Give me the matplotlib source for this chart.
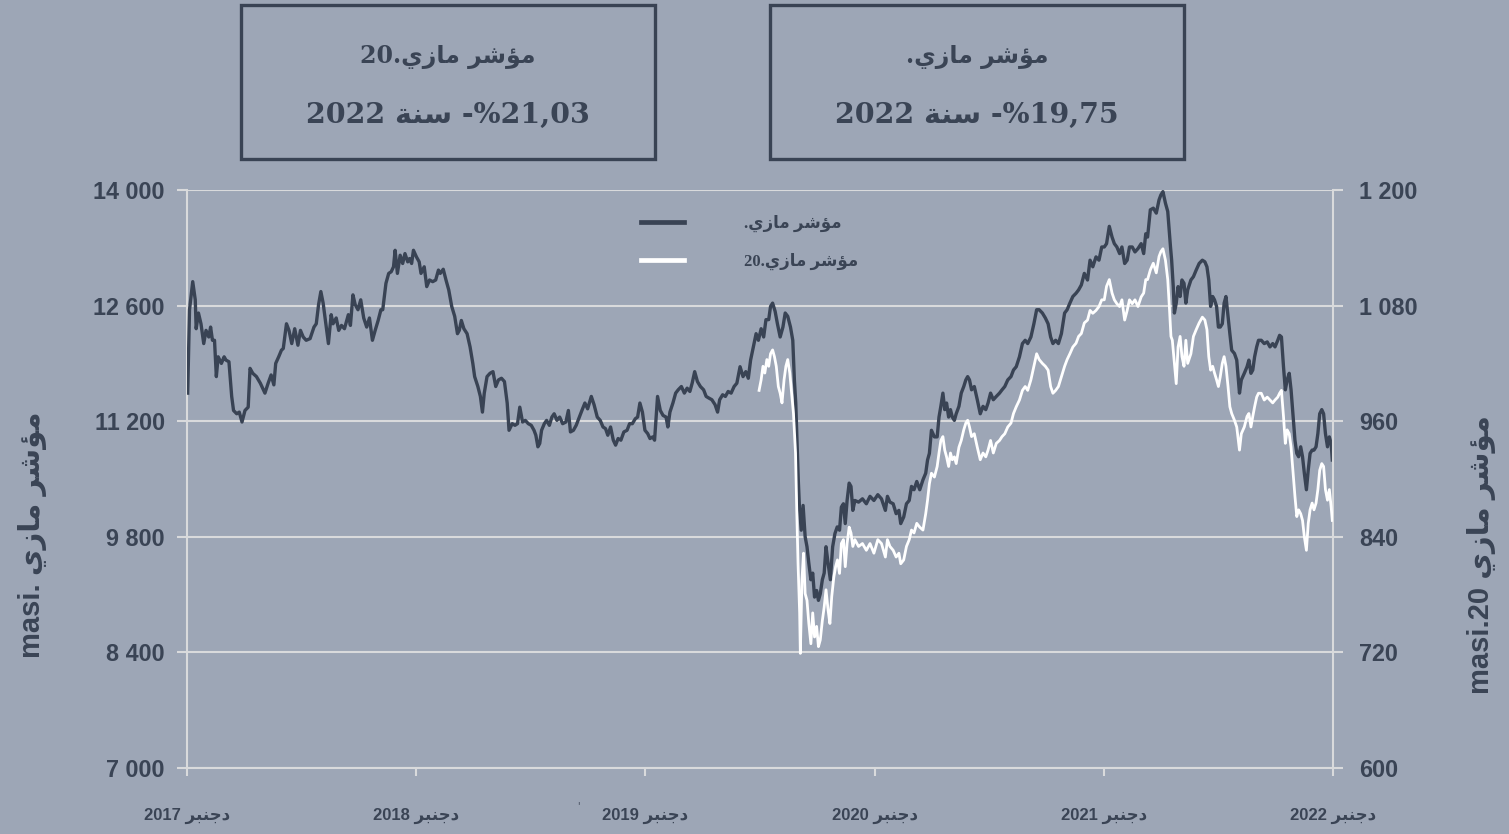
import matplotlib
matplotlib.use("Agg")
import matplotlib.pyplot as plt
from matplotlib.lines import Line2D
from matplotlib.patches import Rectangle

# ---------------- data ----------------
# x: years since December 2017 (tick 0 = Dec 2017 ... 5 = Dec 2022)
t_masi = [0.003, 0.011, 0.025, 0.036, 0.040, 0.050, 0.061, 0.073, 0.083, 0.095, 0.103, 0.111, 0.120, 0.128,
          0.136, 0.150, 0.162, 0.170, 0.183, 0.195, 0.203, 0.217, 0.228, 0.240, 0.253, 0.267, 0.275, 0.287,
          0.303, 0.320, 0.340, 0.354, 0.367, 0.379, 0.387, 0.400, 0.412, 0.420, 0.434, 0.445, 0.457, 0.470,
          0.484, 0.495, 0.507, 0.520, 0.537, 0.554, 0.564, 0.574, 0.584, 0.594, 0.604, 0.617, 0.629, 0.637,
          0.651, 0.662, 0.674, 0.687, 0.704, 0.713, 0.724, 0.734, 0.746, 0.758, 0.771, 0.784, 0.796, 0.809,
          0.821, 0.834, 0.846, 0.854, 0.868, 0.880, 0.891, 0.901, 0.908, 0.918, 0.930, 0.941, 0.951, 0.963,
          0.971, 0.980, 0.988, 1.001, 1.013, 1.021, 1.035, 1.046, 1.058, 1.072, 1.085, 1.097, 1.105, 1.118,
          1.130, 1.142, 1.155, 1.168, 1.180, 1.188, 1.197, 1.208, 1.222, 1.235, 1.247, 1.255, 1.269, 1.280,
          1.289, 1.297, 1.309, 1.322, 1.335, 1.347, 1.359, 1.372, 1.385, 1.397, 1.405, 1.419, 1.431, 1.442,
          1.452, 1.464, 1.476, 1.489, 1.502, 1.514, 1.522, 1.531, 1.539, 1.547, 1.559, 1.569, 1.581, 1.592,
          1.602, 1.614, 1.626, 1.639, 1.653, 1.664, 1.673, 1.686, 1.698, 1.709, 1.723, 1.736, 1.748, 1.764,
          1.776, 1.790, 1.803, 1.815, 1.826, 1.836, 1.848, 1.860, 1.870, 1.881, 1.893, 1.906, 1.920, 1.931,
          1.943, 1.956, 1.966, 1.976, 1.987, 1.998, 2.010, 2.020, 2.032, 2.040, 2.053, 2.065, 2.077, 2.090,
          2.098, 2.107, 2.120, 2.132, 2.143, 2.157, 2.170, 2.182, 2.194, 2.204, 2.215, 2.227, 2.240, 2.254,
          2.265, 2.277, 2.290, 2.304, 2.315, 2.324, 2.337, 2.349, 2.361, 2.374, 2.387, 2.399,
          2.413, 2.426, 2.438, 2.449, 2.459, 2.471, 2.483, 2.493, 2.505, 2.516, 2.526, 2.538, 2.546, 2.555,
          2.566, 2.576, 2.588, 2.600, 2.610, 2.621, 2.633, 2.643, 2.650, 2.656, 2.663, 2.667, 2.672, 2.680,
          2.688, 2.697, 2.705, 2.713, 2.722, 2.730, 2.738, 2.747, 2.755, 2.763, 2.772, 2.780, 2.788, 2.797,
          2.807, 2.817, 2.827, 2.837, 2.847, 2.855, 2.864, 2.872, 2.880, 2.889, 2.897, 2.905, 2.914, 2.930,
          2.947, 2.964, 2.980, 2.997, 3.014, 3.030, 3.047, 3.056, 3.067, 3.081, 3.094, 3.106, 3.114, 3.127,
          3.139, 3.151, 3.161, 3.172, 3.184, 3.197, 3.211, 3.223, 3.231, 3.239, 3.248, 3.261, 3.273, 3.281,
          3.289, 3.298, 3.306, 3.314, 3.323, 3.331, 3.339, 3.348, 3.356, 3.368, 3.378, 3.389, 3.398, 3.406,
          3.414, 3.423, 3.435, 3.448, 3.461, 3.473, 3.485, 3.495, 3.506, 3.518, 3.531, 3.545, 3.556, 3.568,
          3.581, 3.595, 3.606, 3.618, 3.632, 3.645, 3.657, 3.668, 3.682, 3.695, 3.707, 3.718, 3.732, 3.745,
          3.757, 3.768, 3.778, 3.790, 3.802, 3.815, 3.829, 3.840, 3.852, 3.865, 3.879, 3.890, 3.902, 3.915,
          3.929, 3.940, 3.952, 3.966, 3.979, 3.991, 4.002, 4.012, 4.024, 4.036, 4.046, 4.057, 4.069, 4.079,
          4.091, 4.102, 4.112, 4.124, 4.136, 4.149, 4.163, 4.174, 4.183, 4.191, 4.203, 4.216, 4.229, 4.241,
          4.249, 4.258, 4.269, 4.279, 4.291, 4.296, 4.303, 4.308, 4.316, 4.324, 4.333, 4.341, 4.350, 4.358,
          4.366, 4.380, 4.391, 4.403, 4.416, 4.430, 4.441, 4.450, 4.458, 4.466, 4.475, 4.483, 4.492, 4.500,
          4.508, 4.517, 4.525, 4.533, 4.542, 4.550, 4.558, 4.570, 4.580, 4.592, 4.600, 4.613, 4.625, 4.633,
          4.642, 4.650, 4.658, 4.667, 4.675, 4.687, 4.700, 4.713, 4.725, 4.737, 4.747, 4.759, 4.767, 4.775,
          4.784, 4.792, 4.800, 4.809, 4.817, 4.825, 4.834, 4.842, 4.850, 4.859, 4.867, 4.875, 4.884, 4.892,
          4.900, 4.909, 4.917, 4.926, 4.934, 4.942, 4.951, 4.959, 4.967, 4.976, 4.984, 4.992, 4.997]

masi = [11540, 12550, 12890, 12670, 12320, 12510, 12380, 12140, 12300, 12220, 12340, 12180, 12180, 11740,
        11980, 11900, 11980, 11940, 11920, 11500, 11330, 11290, 11310, 11190, 11330, 11370, 11840, 11780,
        11740, 11660, 11540, 11660, 11760, 11640, 11900, 11980, 12060, 12080, 12380, 12300, 12140, 12320,
        12120, 12300, 12220, 12180, 12200, 12340, 12380, 12610, 12770, 12630, 12420, 12140, 12490, 12380,
        12450, 12300, 12360, 12320, 12490, 12360, 12730, 12610, 12550, 12670, 12450, 12340, 12450, 12180,
        12300, 12420, 12550, 12550, 12870, 12990, 13010, 13070, 13270, 12990, 13210, 13110, 13230, 13130,
        13170, 13110, 13270, 13190, 13130, 12990, 13070, 12830, 12910, 12890, 12910, 13030, 12990, 13040,
        12910, 12790, 12590, 12470, 12260, 12300, 12420, 12320, 12260, 12100, 11900, 11740, 11620, 11500,
        11310, 11540, 11740, 11780, 11800, 11620, 11700, 11720, 11680, 11420, 11090, 11170, 11150, 11170,
        11370, 11190, 11210, 11170, 11150, 11090, 11030, 10890, 10930, 11090, 11170, 11210, 11150, 11250,
        11290, 11210, 11250, 11170, 11190, 11330, 11070, 11090, 11150, 11230, 11330, 11420, 11350, 11500,
        11400, 11250, 11210, 11130, 11110, 11030, 11130, 10970, 10910, 10990, 10970, 11070, 11090, 11170,
        11170, 11230, 11250, 11420, 11310, 11090, 11050, 10990, 11010, 10970, 11500, 11330, 11270, 11250,
        11130, 11310, 11420, 11540, 11580, 11620, 11540, 11600, 11560, 11660, 11800, 11680, 11620, 11580,
        11500, 11480, 11460, 11400, 11310, 11460, 11520, 11500, 11560, 11540, 11620, 11660,
        11860, 11740, 11800, 11720, 11940, 12100, 12260, 12180, 12320, 12220, 12430, 12430, 12590, 12630,
        12530, 12380, 12220, 12340, 12510, 12470, 12340, 12180, 11700, 11420, 10850, 10490, 10160, 9880,
        10180, 9800, 9680, 9480, 9280, 9360, 9070, 9150, 9030, 9110, 9280, 9360, 9680, 9480,
        9280, 9680, 9840, 9920, 9880, 10160, 10200, 9960, 10240, 10450, 10410, 10120, 10240, 10220,
        10260, 10200, 10290, 10240, 10310, 10260, 10120, 10290, 10220, 10200, 10080, 10120, 9960, 10040,
        10200, 10240, 10410, 10370, 10470, 10370, 10490, 10570, 10730, 10810, 11090, 11010, 11010, 11250,
        11380, 11540, 11340, 11420, 11250, 11340, 11250, 11210, 11290, 11380, 11540, 11620, 11700, 11740,
        11700, 11580, 11620, 11460, 11290, 11380, 11340, 11420, 11540, 11460, 11500, 11540, 11580, 11620,
        11700, 11740, 11820, 11860, 11980, 12140, 12180, 12140, 12220, 12380, 12550, 12550, 12510, 12450,
        12380, 12220, 12140, 12180, 12140, 12260, 12510, 12550, 12630, 12710, 12750, 12790, 12850, 12990,
        12910, 13150, 13070, 13190, 13150, 13310, 13310, 13350, 13560, 13430, 13350, 13310, 13230, 13310,
        13110, 13150, 13310, 13310, 13250, 13290, 13350, 13230, 13470, 13430, 13760, 13780, 13720, 13880,
        13940, 13980, 13840, 13740, 13310, 13150, 12830, 12510, 12630, 12830, 12710, 12910, 12870, 12630,
        12790, 12910, 12950, 13030, 13110, 13150, 13130, 13070, 12910, 12590, 12710, 12670, 12590, 12340,
        12340, 12380, 12630, 12710, 12470, 12260, 12060, 12020, 11940, 11540, 11700, 11780, 11860, 11940,
        11780, 11820, 11980, 12100, 12180, 12180, 12140, 12160, 12100, 12140, 12100, 12180, 12240, 12220,
        11860, 11580, 11700, 11780, 11580, 11290, 10970, 10810, 10770, 10890, 10770, 10570, 10370, 10610,
        10810, 10850, 10850, 10890, 11050, 11290, 11340, 11290, 11050, 10890, 11010, 10930, 10730]

t_masi20 = [2.496, 2.505, 2.513, 2.521, 2.530, 2.538, 2.546, 2.555, 2.563, 2.571, 2.580, 2.588, 2.596, 2.605,
            2.613, 2.621, 2.630, 2.638, 2.646, 2.655, 2.660, 2.666, 2.673, 2.676, 2.683, 2.690, 2.697, 2.705,
            2.713, 2.722, 2.730, 2.738, 2.747, 2.755, 2.763, 2.772, 2.780, 2.788, 2.797, 2.805, 2.813, 2.822,
            2.830, 2.838, 2.847, 2.855, 2.864, 2.872, 2.880, 2.889, 2.897, 2.905, 2.914, 2.930, 2.947, 2.964,
            2.980, 2.997, 3.014, 3.030, 3.047, 3.056, 3.067, 3.081, 3.094, 3.106, 3.114, 3.127, 3.139, 3.151,
            3.161, 3.172, 3.184, 3.197, 3.211, 3.223, 3.231, 3.239, 3.248, 3.261, 3.273, 3.281, 3.289, 3.298,
            3.306, 3.314, 3.323, 3.331, 3.339, 3.348, 3.356, 3.368, 3.378, 3.389, 3.398, 3.406, 3.414, 3.423,
            3.435, 3.448, 3.461, 3.473, 3.485, 3.495, 3.506, 3.518, 3.531, 3.545, 3.556, 3.568, 3.581, 3.595,
            3.606, 3.618, 3.632, 3.645, 3.657, 3.668, 3.682, 3.695, 3.707, 3.718, 3.732, 3.745, 3.757, 3.768,
            3.778, 3.790, 3.802, 3.815, 3.829, 3.840, 3.852, 3.865, 3.879, 3.890, 3.902, 3.915, 3.929, 3.940,
            3.952, 3.966, 3.979, 3.991, 4.002, 4.012, 4.024, 4.036, 4.046, 4.057, 4.069, 4.079, 4.091, 4.102,
            4.112, 4.124, 4.136, 4.149, 4.163, 4.174, 4.183, 4.191, 4.203, 4.216, 4.229, 4.241, 4.249, 4.258,
            4.269, 4.279, 4.286, 4.293, 4.299, 4.308, 4.316, 4.324, 4.333, 4.341, 4.350, 4.358, 4.366, 4.380,
            4.391, 4.403, 4.416, 4.430, 4.441, 4.450, 4.458, 4.466, 4.475, 4.483, 4.492, 4.500, 4.508, 4.517,
            4.525, 4.533, 4.542, 4.550, 4.558, 4.570, 4.580, 4.592, 4.600, 4.613, 4.625, 4.633, 4.642, 4.650,
            4.658, 4.667, 4.675, 4.687, 4.700, 4.713, 4.725, 4.737, 4.747, 4.759, 4.767, 4.775, 4.784, 4.792,
            4.800, 4.809, 4.817, 4.825, 4.834, 4.842, 4.850, 4.859, 4.867, 4.875, 4.884, 4.892, 4.900, 4.909,
            4.917, 4.926, 4.934, 4.942, 4.951, 4.959, 4.967, 4.976, 4.984, 4.992, 4.997]

masi20 = [992, 1003, 1017, 1010, 1024, 1017, 1030, 1034, 1027, 1017, 996, 989, 979, 1003,
          1017, 1024, 1010, 989, 968, 927, 871, 812, 761, 719, 795, 823, 781, 774,
          750, 729, 761, 736, 747, 726, 733, 753, 767, 785, 764, 750, 778, 798,
          809, 816, 802, 833, 837, 809, 833, 850, 844, 830, 837, 830, 833, 826,
          833, 823, 837, 833, 819, 837, 830, 826, 819, 823, 812, 816, 830, 837,
          847, 844, 854, 850, 847, 864, 878, 895, 906, 902, 913, 927, 940, 944,
          930, 923, 913, 927, 920, 923, 916, 933, 940, 951, 958, 961, 954, 944,
          947, 933, 920, 927, 923, 930, 940, 927, 937, 940, 944, 947, 954, 958,
          968, 975, 982, 992, 996, 992, 1003, 1017, 1030, 1024, 1020, 1017, 1013, 996,
          989, 992, 996, 1006, 1017, 1024, 1030, 1037, 1041, 1048, 1051, 1062, 1065, 1075,
          1072, 1075, 1079, 1086, 1086, 1100, 1107, 1093, 1086, 1082, 1079, 1086, 1065, 1075,
          1086, 1082, 1086, 1079, 1089, 1093, 1107, 1107, 1117, 1124, 1114, 1131, 1136, 1139,
          1127, 1107, 1079, 1048, 1044, 1020, 999, 1037, 1048, 1027, 1017, 1044, 1020, 1030,
          1048, 1055, 1062, 1068, 1065, 1055, 1027, 1013, 1017, 1010, 1003, 996, 1006, 1020,
          1027, 1017, 996, 975, 968, 961, 954, 930, 947, 954, 965, 968, 954, 965,
          975, 985, 989, 989, 982, 985, 982, 979, 982, 985, 989, 992, 965, 937,
          951, 947, 933, 909, 882, 861, 868, 864, 857, 840, 826, 854, 868, 875,
          868, 875, 889, 909, 916, 913, 889, 878, 889, 871, 857]

left_ticks = [7000, 8400, 9800, 11200, 12600, 14000]
left_ticklabels = ["7 000", "8 400", "9 800", "11 200", "12 600", "14 000"]
right_ticks = [600, 720, 840, 960, 1080, 1200]
right_ticklabels = ["600", "720", "840", "960", "1 080", "1 200"]
x_ticks = [0, 1, 2, 3, 4, 5]
x_years = ["2017", "2018", "2019", "2020", "2021", "2022"]
month_label = "دجنبر"
name_masi = "مؤشر مازي"
year_word = "سنة"
perf_masi = "-%19,75"
perf_masi20 = "-%21,03"
perf_year = "2022"

# ---------------- minimal Arabic shaping (visual order) ----------------
FORMS = {
    'م': ('\uFEE1', '\uFEE2', '\uFEE3', '\uFEE4'),
    'ش': ('\uFEB5', '\uFEB6', '\uFEB7', '\uFEB8'),
    'ي': ('\uFEF1', '\uFEF2', '\uFEF3', '\uFEF4'),
    'س': ('\uFEB1', '\uFEB2', '\uFEB3', '\uFEB4'),
    'ن': ('\uFEE5', '\uFEE6', '\uFEE7', '\uFEE8'),
    'ج': ('\uFE9D', '\uFE9E', '\uFE9F', '\uFEA0'),
    'ب': ('\uFE8F', '\uFE90', '\uFE91', '\uFE92'),
    'ؤ': ('\uFE85', '\uFE86'),
    'ر': ('\uFEAD', '\uFEAE'),
    'ا': ('\uFE8D', '\uFE8E'),
    'ز': ('\uFEAF', '\uFEB0'),
    'ة': ('\uFE93', '\uFE94'),
    'د': ('\uFEA9', '\uFEAA'),
}


def shape_word(w):
    out = []
    for i, c in enumerate(w):
        f = FORMS[c]
        pj = i > 0 and len(FORMS[w[i - 1]]) == 4
        nj = i < len(w) - 1 and len(f) == 4
        if pj and nj:
            out.append(f[3])
        elif pj:
            out.append(f[1])
        elif nj:
            out.append(f[2])
        else:
            out.append(f[0])
    return ''.join(reversed(out))


def ar(phrase):
    return ' '.join(shape_word(w) for w in reversed(phrase.split(' ')))


# ---------------- style ----------------
BG = "#9DA6B6"
DARK = "#394354"
TXT = "#3A4455"
GRID = "#D9DADC"
W, H = 1509, 834

fig = plt.figure(figsize=(W / 100, H / 100), dpi=100, facecolor=BG)
ax = fig.add_axes([187 / W, 1 - 768 / H, (1333 - 187) / W, (768 - 190) / H], facecolor=BG)
ax2 = ax.twinx()

ax.plot(t_masi, masi, color=DARK, lw=2.4, solid_joinstyle="round", zorder=3)
ax2.plot(t_masi20, masi20, color="white", lw=2.0, solid_joinstyle="round", zorder=3)

ax.set_xlim(0, 5)
ax.set_ylim(7000, 14000)
ax2.set_ylim(600, 1200)

ax.set_yticks(left_ticks)
ax.set_yticklabels(left_ticklabels)
ax2.set_yticks(right_ticks)
ax2.set_yticklabels(right_ticklabels)
ax.set_xticks(x_ticks)
ax.set_xticklabels([y + " " + ar(month_label) for y in x_years])

ax.grid(axis="y", color=GRID, lw=1.5, zorder=1)
ax.set_axisbelow(True)

for a in (ax, ax2):
    a.spines["top"].set_visible(False)
    for s in ("left", "right", "bottom"):
        a.spines[s].set_color(GRID)
        a.spines[s].set_linewidth(1.5)
ax2.spines["bottom"].set_visible(False)
ax2.spines["left"].set_visible(False)
ax.spines["right"].set_visible(False)

ytick_font = dict(family="Liberation Sans", weight="bold", size=16.8)
ax.tick_params(axis="y", colors=GRID, length=7, width=1.5, pad=9, labelcolor=TXT)
ax2.tick_params(axis="y", colors=GRID, length=7, width=1.5, pad=12, labelcolor=TXT)
ax.tick_params(axis="x", colors=GRID, length=6, width=1.5, pad=23, labelcolor=TXT)
for lab in ax.get_yticklabels() + ax2.get_yticklabels():
    lab.set_fontproperties(ytick_font)
for lab in ax.get_xticklabels():
    lab.set_family(["Liberation Sans", "DejaVu Sans"])
    lab.set_weight("bold")
    lab.set_fontsize(12)

# legend
handles = [Line2D([], [], color=DARK, lw=3.4), Line2D([], [], color="white", lw=3.4)]
leg = ax.legend(handles, ["." + ar(name_masi), "20." + ar(name_masi)],
                loc="upper left", bbox_to_anchor=((641 - 187) / 1146, (768 - 215) / 578),
                frameon=False, handlelength=2.6, handletextpad=3.6, labelspacing=1.25,
                borderpad=0, borderaxespad=0,
                prop=dict(family=["Liberation Serif", "DejaVu Sans"], weight="bold", size=12))
for tx in leg.get_texts():
    tx.set_color(TXT)

# axis titles
fig.text(33 / W, 1 - 535 / H, "masi. " + ar(name_masi), rotation=90, ha="center", va="center",
         color=TXT, fontsize=21, fontweight="bold", family=["Liberation Sans", "DejaVu Sans"])
fig.text(1481 / W, 1 - 555 / H, "masi.20 " + ar(name_masi), rotation=90, ha="center", va="center",
         color=TXT, fontsize=21, fontweight="bold", family=["Liberation Sans", "DejaVu Sans"])

# stray small mark under the axis
fig.text(578 / W, 1 - 806 / H, "'", color=TXT, fontsize=7, ha="center", va="center")

# boxes
title_font = dict(family=["DejaVu Serif", "DejaVu Sans"], weight="bold", size=17, color=TXT)
perf_font = dict(family=["DejaVu Serif", "DejaVu Sans"], weight="bold", size=20.5, color=TXT)
boxes = [(241, 655, "20." + ar(name_masi), perf_year + " " + ar(year_word) + " " + perf_masi20),
         (770, 1184, "." + ar(name_masi), perf_year + " " + ar(year_word) + " " + perf_masi)]
for x0, x1, l1, l2 in boxes:
    fig.add_artist(Rectangle((x0 / W, 1 - 159 / H), (x1 - x0) / W, 154 / H, transform=fig.transFigure,
                             fill=False, ec=DARK, lw=2.4))
    cx = (x0 + x1) / 2 / W
    fig.text(cx, 1 - 57 / H, l1, ha="center", va="center", **title_font)
    fig.text(cx, 1 - 115 / H, l2, ha="center", va="center", **perf_font)

fig.savefig("out.png", dpi=100, facecolor=BG)
